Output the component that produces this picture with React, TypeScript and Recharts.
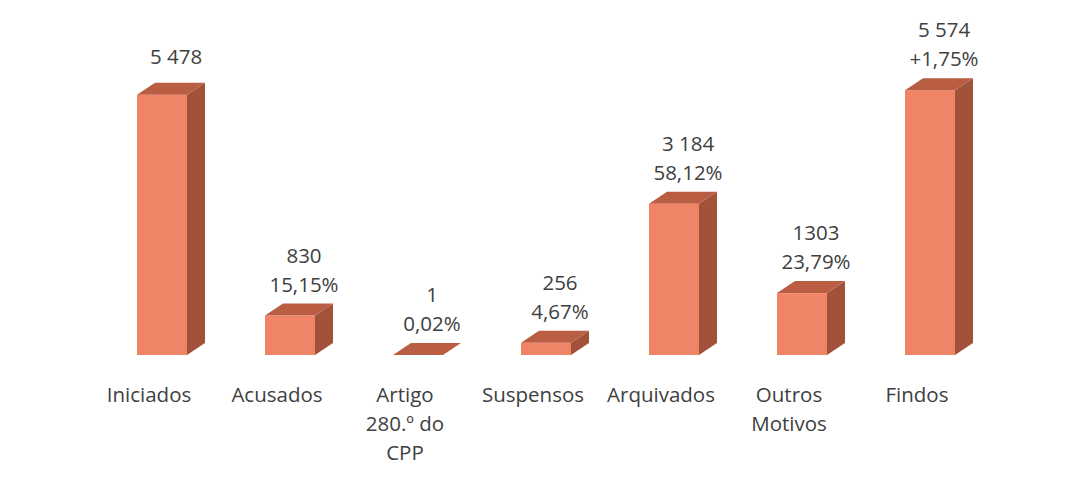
import React from 'react';
import { BarChart, Bar, XAxis, YAxis, LabelList } from 'recharts';

const categories = ['Iniciados', 'Acusados', 'Artigo 280.º do CPP', 'Suspensos', 'Arquivados', 'Outros Motivos', 'Findos'];
const tickLines = [['Iniciados'], ['Acusados'], ['Artigo', '280.º do', 'CPP'], ['Suspensos'], ['Arquivados'], ['Outros', 'Motivos'], ['Findos']];
const values = [5478, 830, 1, 256, 3184, 1303, 5574];
const valueLabels = ['5 478', '830', '1', '256', '3 184', '1303', '5 574'];
const pctLabels = ['', '15,15%', '0,02%', '4,67%', '58,12%', '23,79%', '+1,75%'];

const data = categories.map((name, i) => ({
  name,
  value: values[i],
  lines: tickLines[i],
  valueLabel: valueLabels[i],
  pct: pctLabels[i],
}));

const FRONT = '#F08466';
const TOP = '#B95D43';
const SIDE = '#A0533A';
const TEXT = '#404040';
const FONT = 20.5;
const DX = 18;
const DY = 12;
const SHIFT = 13;

function Bar3D(props: any) {
  const { x, y, width, height } = props;
  const x0 = x + SHIFT;
  const h = Math.max(height, 0);
  return (
    <g>
      <rect x={x0} y={y} width={width} height={h} fill={FRONT} />
      <polygon
        points={`${x0 + width},${y} ${x0 + width + DX},${y - DY} ${x0 + width + DX},${y + h - DY} ${x0 + width},${y + h}`}
        fill={SIDE}
      />
      <polygon
        points={`${x0},${y} ${x0 + DX},${y - DY} ${x0 + width + DX},${y - DY} ${x0 + width},${y}`}
        fill={TOP}
      />
    </g>
  );
}

function TopLabel(props: any) {
  const { x, y, width, index } = props;
  const d = data[index];
  const cx = x + SHIFT + width / 2 + DX / 2 + 5;
  const base = y - DY - 20;
  const style = { fontFamily: '"Open Sans", sans-serif', fontSize: FONT, fill: TEXT };
  if (!d.pct) {
    return (
      <text x={cx} y={base - 7} textAnchor="middle" dominantBaseline="central" style={style}>
        {d.valueLabel}
      </text>
    );
  }
  return (
    <g>
      <text x={cx} y={base - 29} textAnchor="middle" dominantBaseline="central" style={style}>
        {d.valueLabel}
      </text>
      <text x={cx} y={base} textAnchor="middle" dominantBaseline="central" style={style}>
        {d.pct}
      </text>
    </g>
  );
}

function CategoryTick(props: any) {
  const { x, y, index } = props;
  const lines = tickLines[index] || [];
  return (
    <g>
      {lines.map((line, i) => (
        <text
          key={i}
          x={x}
          y={y + 31 + i * 29}
          textAnchor="middle"
          dominantBaseline="central"
          style={{ fontFamily: '"Open Sans", sans-serif', fontSize: FONT, fill: TEXT }}
        >
          {line}
        </text>
      ))}
    </g>
  );
}

export default function App() {
  return (
    <div style={{ position: 'absolute', left: 0, top: 0, width: 1086, height: 482, background: '#fff' }}>
      <BarChart
        width={1086}
        height={482}
        data={data}
        margin={{ top: 70, right: 105, bottom: 0, left: 85 }}
        barCategoryGap={0}
      >
        <XAxis
          dataKey="name"
          axisLine={false}
          tickLine={false}
          interval={0}
          height={127}
          tick={<CategoryTick />}
        />
        <YAxis hide domain={[0, 6000]} />
        <Bar dataKey="value" barSize={50} shape={<Bar3D />} isAnimationActive={false}>
          <LabelList dataKey="value" content={<TopLabel />} />
        </Bar>
      </BarChart>
    </div>
  );
}
